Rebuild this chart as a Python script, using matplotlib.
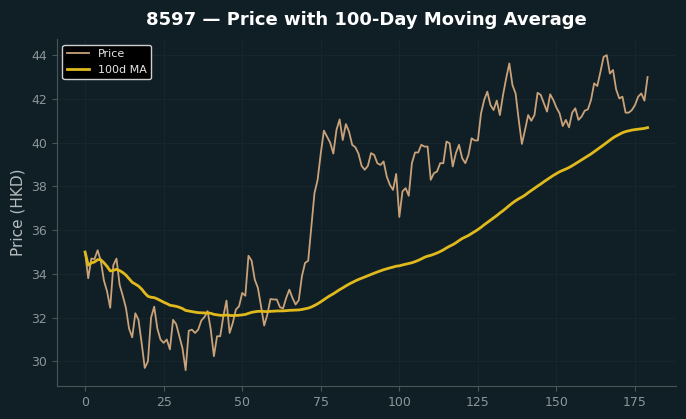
import numpy as np
import pandas as pd
import matplotlib
matplotlib.use("Agg")
import matplotlib.pyplot as plt

# ---------------------------------------------------------------------------
# Datos
# ---------------------------------------------------------------------------

ticker = "8597"
ma_window = 100

price = [
    35.0, 33.8, 34.7, 34.68, 35.08, 34.6, 33.7, 33.2, 32.45, 34.4,
    34.7, 33.5, 33.0, 32.45, 31.5, 31.1, 32.2, 31.9, 30.85, 29.7,
    30.0, 32.0, 32.5, 31.5, 31.0, 30.85, 31.0, 30.55, 31.9, 31.7,
    31.15, 30.6, 29.6, 31.4, 31.45, 31.3, 31.45, 31.87, 32.03, 32.3,
    31.45, 30.24, 31.15, 31.15, 32.06, 32.78, 31.3, 31.76, 32.37, 32.52,
    33.13, 33.0, 34.83, 34.6, 33.74, 33.36, 32.52, 31.64, 32.14, 32.85,
    32.83, 32.83, 32.48, 32.42, 32.9, 33.28, 32.9, 32.6, 32.8, 33.89,
    34.5, 34.6, 36.17, 37.69, 38.3, 39.5, 40.55, 40.27, 40.0, 39.5,
    40.58, 41.06, 40.12, 40.85, 40.5, 39.9, 39.79, 39.5, 38.94, 38.76,
    38.94, 39.52, 39.44, 39.06, 38.98, 39.14, 38.45, 38.07, 37.84, 38.57,
    36.6, 37.77, 37.92, 37.57, 39.06, 39.55, 39.55, 39.9, 39.82, 39.82,
    38.3, 38.6, 38.68, 39.06, 39.06, 40.05, 39.97, 38.91, 39.52, 39.9,
    39.29, 39.06, 39.44, 40.2, 40.1, 40.1, 41.34, 41.95, 42.33, 41.72,
    41.49, 41.92, 41.26, 42.18, 42.94, 43.62, 42.63, 42.25, 41.04, 39.94,
    40.58, 41.26, 41.0, 41.26, 42.28, 42.18, 41.8, 41.42, 42.21, 41.95,
    41.6, 41.34, 40.76, 41.04, 40.7, 41.37, 41.57, 41.04, 41.19, 41.46,
    41.52, 41.95, 42.71, 42.59, 43.24, 43.92, 44.0, 43.16, 43.32, 42.43,
    42.02, 42.1, 41.37, 41.37, 41.49, 41.72, 42.1, 42.25, 41.92, 43.0,
]

# ---------------------------------------------------------------------------
# Estilo
# ---------------------------------------------------------------------------

BG = "#101f26"
GRID = "#17262d"
SPINE = "#4a5558"
TICK = "#8c9599"
PRICE_COLOR = "#c9a27a"
MA_COLOR = "#e0b91c"


def main() -> None:
    s = pd.Series(price)
    ma = s.rolling(ma_window, min_periods=1).mean()
    days = np.arange(len(s))

    fig = plt.figure(figsize=(6.86, 4.19), dpi=100, facecolor=BG)
    ax = fig.add_axes([0.083, 0.079, 0.902, 0.827])
    ax.set_facecolor(BG)

    ax.plot(days, s, color=PRICE_COLOR, lw=1.3, label="Price")
    ax.plot(days, ma, color=MA_COLOR, lw=2.0, label=f"{ma_window}d MA")

    ax.grid(True, color=GRID, lw=0.8)
    ax.set_axisbelow(True)
    for side in ("top", "right"):
        ax.spines[side].set_visible(False)
    for side in ("left", "bottom"):
        ax.spines[side].set_color(SPINE)

    ax.tick_params(colors=SPINE, labelcolor=TICK, labelsize=9)
    ax.set_xticks([0, 25, 50, 75, 100, 125, 150, 175])
    ax.set_yticks([30, 32, 34, 36, 38, 40, 42, 44])
    ax.set_ylabel("Price (HKD)", color="#b5bcbf", fontsize=11)
    ax.set_title(f"{ticker} — Price with {ma_window}-Day Moving Average",
                 color="white", fontsize=13, fontweight="bold", pad=10)

    leg = ax.legend(loc="upper left", facecolor="black", edgecolor="#cfcfcf",
                    fontsize=8, framealpha=1.0)
    for t in leg.get_texts():
        t.set_color("#e6e6e6")

    fig.savefig("out.png", dpi=100, facecolor=BG)


if __name__ == "__main__":
    main()
